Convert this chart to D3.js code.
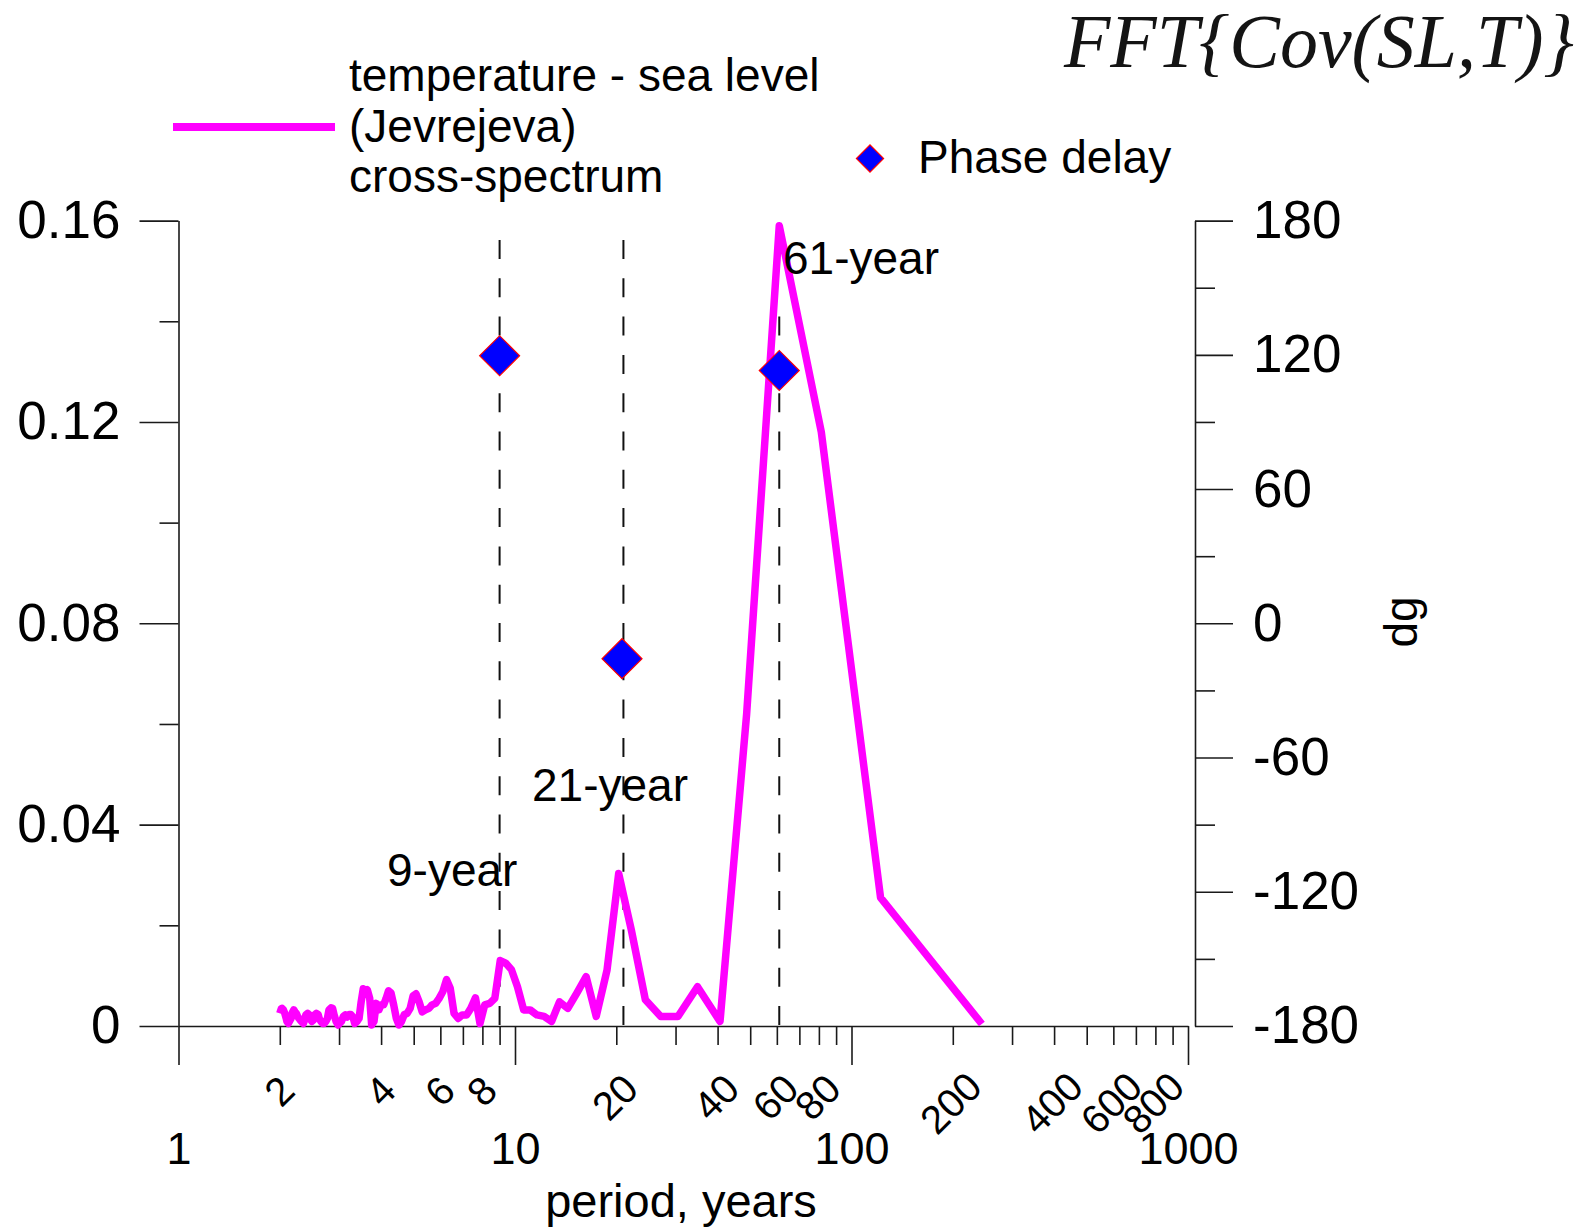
<!DOCTYPE html>
<html>
<head>
<meta charset="utf-8">
<script src="https://cdn.jsdelivr.net/npm/d3@7"></script>
<style>
  body { margin: 0; background: #fff; }
  svg { display: block; font-family: "Liberation Sans", Arial, sans-serif; }
  .axis path, .axis line { stroke: #1a1a1a; stroke-width: 1.6; }
  .axis text { fill: #000; }
</style>
</head>
<body>
<div id="chart"></div>
<script>
// periods (years) of the cross-spectrum points, short to long
var periods = [2, 2.02, 2.03, 2.05, 2.07, 2.09, 2.1, 2.12, 2.14, 2.16,
  2.18, 2.2, 2.22, 2.24, 2.26, 2.28, 2.3, 2.32, 2.35, 2.37,
  2.39, 2.42, 2.44, 2.46, 2.49, 2.52, 2.54, 2.57, 2.6, 2.62,
  2.65, 2.68, 2.71, 2.74, 2.77, 2.8, 2.84, 2.87, 2.9, 2.94,
  2.98, 3.01, 3.05, 3.09, 3.13, 3.17, 3.21, 3.25, 3.3, 3.34,
  3.39, 3.44, 3.49, 3.54, 3.59, 3.64, 3.7, 3.75, 3.81, 3.87,
  3.94, 4, 4.07, 4.14, 4.21, 4.28, 4.36, 4.44, 4.52, 4.6,
  4.69, 4.78, 4.88, 4.98, 5.08, 5.19, 5.3, 5.42, 5.55, 5.67,
  5.81, 5.95, 6.1, 6.26, 6.42, 6.59, 6.78, 6.97, 7.18, 7.39,
  7.63, 7.87, 8.13, 8.41, 8.71, 9.04, 9.38, 9.76, 10.17, 10.61,
  11.09, 11.62, 12.2, 12.84, 13.56, 14.35, 15.25, 16.27, 17.43, 18.77,
  20.33, 22.18, 24.4, 27.11, 30.5, 34.86, 40.67, 48.8, 61, 81.33,
  122, 244];

// temperature - sea level cross-spectrum
var crossSpectrum = [0.0025, 0.0034, 0.0035, 0.0032, 0.0025, 0.0015, 0.0009, 0.0005, 0.0010, 0.0015,
  0.0027, 0.0032, 0.0028, 0.0025, 0.0019, 0.0015, 0.0012, 0.0009, 0.0005, 0.0012,
  0.0022, 0.0025, 0.0023, 0.0015, 0.0009, 0.0012, 0.0022, 0.0025, 0.0023, 0.0015,
  0.0009, 0.0005, 0.0005, 0.0009, 0.0015, 0.0032, 0.0036, 0.0035, 0.0022, 0.0009,
  0.0002, 0.0005, 0.0009, 0.0019, 0.0022, 0.0018, 0.0023, 0.0023, 0.0018, 0.0005,
  0.0009, 0.0015, 0.0048, 0.0074, 0.0066, 0.0072, 0.0055, 0.0002, 0.0009, 0.0045,
  0.0032, 0.0042, 0.0042, 0.0055, 0.0070, 0.0066, 0.0042, 0.0015, 0.0002, 0.0009,
  0.0023, 0.0025, 0.0035, 0.0060, 0.0064, 0.0048, 0.0028, 0.0032, 0.0035, 0.0042,
  0.0045, 0.0055, 0.0068, 0.0092, 0.0075, 0.0025, 0.0015, 0.0022, 0.0022, 0.0035,
  0.0056, 0.0005, 0.0042, 0.0045, 0.0055, 0.0130, 0.0125, 0.0112, 0.0078, 0.0032,
  0.0032, 0.0022, 0.0019, 0.0009, 0.0048, 0.0035, 0.0065, 0.0098, 0.0019, 0.0111,
  0.0303, 0.0190, 0.0052, 0.0019, 0.0019, 0.0078, 0.0009, 0.0620, 0.1590, 0.1180,
  0.0255, 0.0004];

// phase delay (degrees) at the marked peaks
var phasePeriods = [9, 20.8, 61];
var phaseDelay   = [119.6, -15.8, 113];

// marked peaks
var peakPeriods = [9, 21, 61];
var peakLabels  = ["9-year", "21-year", "61-year"];

// ticks
var yTicks        = [0, 0.04, 0.08, 0.12, 0.16];
var yTickLabels   = ["0", "0.04", "0.08", "0.12", "0.16"];
var yMinorTicks   = [0.02, 0.06, 0.10, 0.14];
var phaseTicks    = [-180, -120, -60, 0, 60, 120, 180];
var phaseMinor    = [-150, -90, -30, 30, 90, 150];
var xMajorTicks   = [1, 10, 100, 1000];
var xMinorTicks   = [2, 3, 4, 5, 6, 7, 8, 9, 20, 30, 40, 50, 60, 70, 80, 90,
                     200, 300, 400, 500, 600, 700, 800, 900];
var xMinorLabels  = [2, 4, 6, 8, 20, 40, 60, 80, 200, 400, 600, 800];

var legendLines = ["temperature - sea level", "(Jevrejeva)", "cross-spectrum"];

var width = 1594, height = 1229;

var svg = d3.select("#chart").append("svg")
    .attr("width", width)
    .attr("height", height);

// scales
var x = d3.scaleLog().domain([1, 1000]).range([178.5, 1188]);
var y = d3.scaleLinear().domain([0, 0.16]).range([1026, 220.6]);
var yPhase = d3.scaleLinear().domain([-180, 180]).range([1026, 220.6]);

// left axis
svg.append("g")
  .attr("class", "axis")
  .attr("transform", "translate(" + x(1) + ",0)")
  .call(d3.axisLeft(y)
    .tickValues(yTicks)
    .tickSize(39)
    .tickSizeOuter(0)
    .tickPadding(19)
    .tickFormat(function (d, i) { return yTickLabels[i]; }))
  .call(function (g) { g.selectAll("text").attr("font-size", 53); });

svg.append("g")
  .attr("class", "axis")
  .attr("transform", "translate(" + x(1) + ",0)")
  .call(d3.axisLeft(y).tickValues(yMinorTicks).tickSize(19).tickFormat(""))
  .call(function (g) { g.select(".domain").remove(); });

// right (phase) axis, plain hyphen for negatives
svg.append("g")
  .attr("class", "axis")
  .attr("transform", "translate(1195,0)")
  .call(d3.axisRight(yPhase)
    .tickValues(phaseTicks)
    .tickSize(38)
    .tickSizeOuter(0)
    .tickPadding(20)
    .tickFormat(function (d) { return String(d); }))
  .call(function (g) { g.selectAll("text").attr("font-size", 53); });

svg.append("g")
  .attr("class", "axis")
  .attr("transform", "translate(1195,0)")
  .call(d3.axisRight(yPhase).tickValues(phaseMinor).tickSize(20).tickFormat(""))
  .call(function (g) { g.select(".domain").remove(); });

// bottom axis
svg.append("g")
  .attr("class", "axis")
  .attr("transform", "translate(0," + y(0) + ")")
  .call(d3.axisBottom(x)
    .tickValues(xMajorTicks)
    .tickSize(39)
    .tickSizeOuter(0)
    .tickPadding(67)
    .tickFormat(d3.format("d")))
  .call(function (g) { g.selectAll("text").attr("font-size", 45); });

svg.append("g")
  .attr("class", "axis")
  .attr("transform", "translate(0," + y(0) + ")")
  .call(d3.axisBottom(x).tickValues(xMinorTicks).tickSize(19).tickFormat(""))
  .call(function (g) { g.select(".domain").remove(); });

// rotated minor labels
svg.append("g")
  .selectAll("text")
  .data(xMinorLabels)
  .join("text")
    .attr("transform", function (d) {
      var n = String(d).length;
      return "translate(" + (x(d) - n * 0.7) + "," + (1085 + n * 6) + ") rotate(-45)";
    })
    .attr("text-anchor", "middle")
    .attr("dy", "0.35em")
    .attr("font-size", 40)
    .text(function (d) { return d; });

// axis titles
svg.append("text")
  .attr("x", 681)
  .attr("y", 1217)
  .attr("text-anchor", "middle")
  .attr("font-size", 47)
  .text("period, years");

svg.append("text")
  .attr("transform", "translate(1401,622) rotate(-90)")
  .attr("text-anchor", "middle")
  .attr("dy", "0.35em")
  .attr("font-size", 46)
  .text("dg");

// dashed marker lines
svg.append("g")
  .selectAll("line")
  .data(peakPeriods)
  .join("line")
    .attr("x1", function (d) { return x(d); })
    .attr("x2", function (d) { return x(d); })
    .attr("y1", function (d, i) { return i === 2 ? 316.6 : 240; })
    .attr("y2", y(0))
    .attr("stroke", "#111")
    .attr("stroke-width", 2)
    .attr("stroke-dasharray", "19,19.3");

// cross-spectrum line
var spectrumData = periods.map(function (p, i) { return { p: p, v: crossSpectrum[i] }; });

var line = d3.line()
    .x(function (d) { return x(d.p); })
    .y(function (d) { return y(d.v); });

svg.append("path")
  .datum(spectrumData)
  .attr("fill", "none")
  .attr("stroke", "#ff00ff")
  .attr("stroke-width", 7.5)
  .attr("stroke-linejoin", "round")
  .attr("d", line);

// phase delay diamonds
var diamond = d3.symbol().type(d3.symbolSquare).size(800);

svg.append("g")
  .selectAll("path")
  .data(phasePeriods)
  .join("path")
    .attr("transform", function (d, i) {
      return "translate(" + x(d) + "," + yPhase(phaseDelay[i]) + ") rotate(45)";
    })
    .attr("d", diamond)
    .attr("fill", "#0000ff")
    .attr("stroke", "#ff0000")
    .attr("stroke-width", 1.2);

// peak labels
var labelPos = [[387, 886], [532, 801], [783, 274]];
svg.append("g")
  .selectAll("text")
  .data(peakLabels)
  .join("text")
    .attr("x", function (d, i) { return labelPos[i][0]; })
    .attr("y", function (d, i) { return labelPos[i][1]; })
    .attr("font-size", 46)
    .text(function (d) { return d; });

// legend: cross-spectrum
svg.append("line")
  .attr("x1", 173).attr("x2", 335)
  .attr("y1", 127).attr("y2", 127)
  .attr("stroke", "#ff00ff")
  .attr("stroke-width", 8);

svg.append("g")
  .selectAll("text")
  .data(legendLines)
  .join("text")
    .attr("x", 349)
    .attr("y", function (d, i) { return 91 + i * 50.5; })
    .attr("font-size", 46)
    .text(function (d) { return d; });

// legend: phase delay
svg.append("path")
  .attr("transform", "translate(870,158.5) rotate(45)")
  .attr("d", d3.symbol().type(d3.symbolSquare).size(370))
  .attr("fill", "#0000ff")
  .attr("stroke", "#ff0000")
  .attr("stroke-width", 1.2);

svg.append("text")
  .attr("x", 918)
  .attr("y", 173)
  .attr("font-size", 46)
  .text("Phase delay");

// formula title, sized so it fits its natural width
var title = svg.append("text")
  .attr("x", 1064)
  .attr("y", 67)
  .attr("font-family", "'Liberation Serif', serif")
  .attr("font-style", "italic")
  .attr("font-size", 74)
  .attr("fill", "#141414")
  .text("FFT{Cov(SL,T)}");

var tl = title.node().getComputedTextLength();
if (tl > 0) title.attr("font-size", Math.min(80, 74 * 510 / tl));
</script>
</body>
</html>
